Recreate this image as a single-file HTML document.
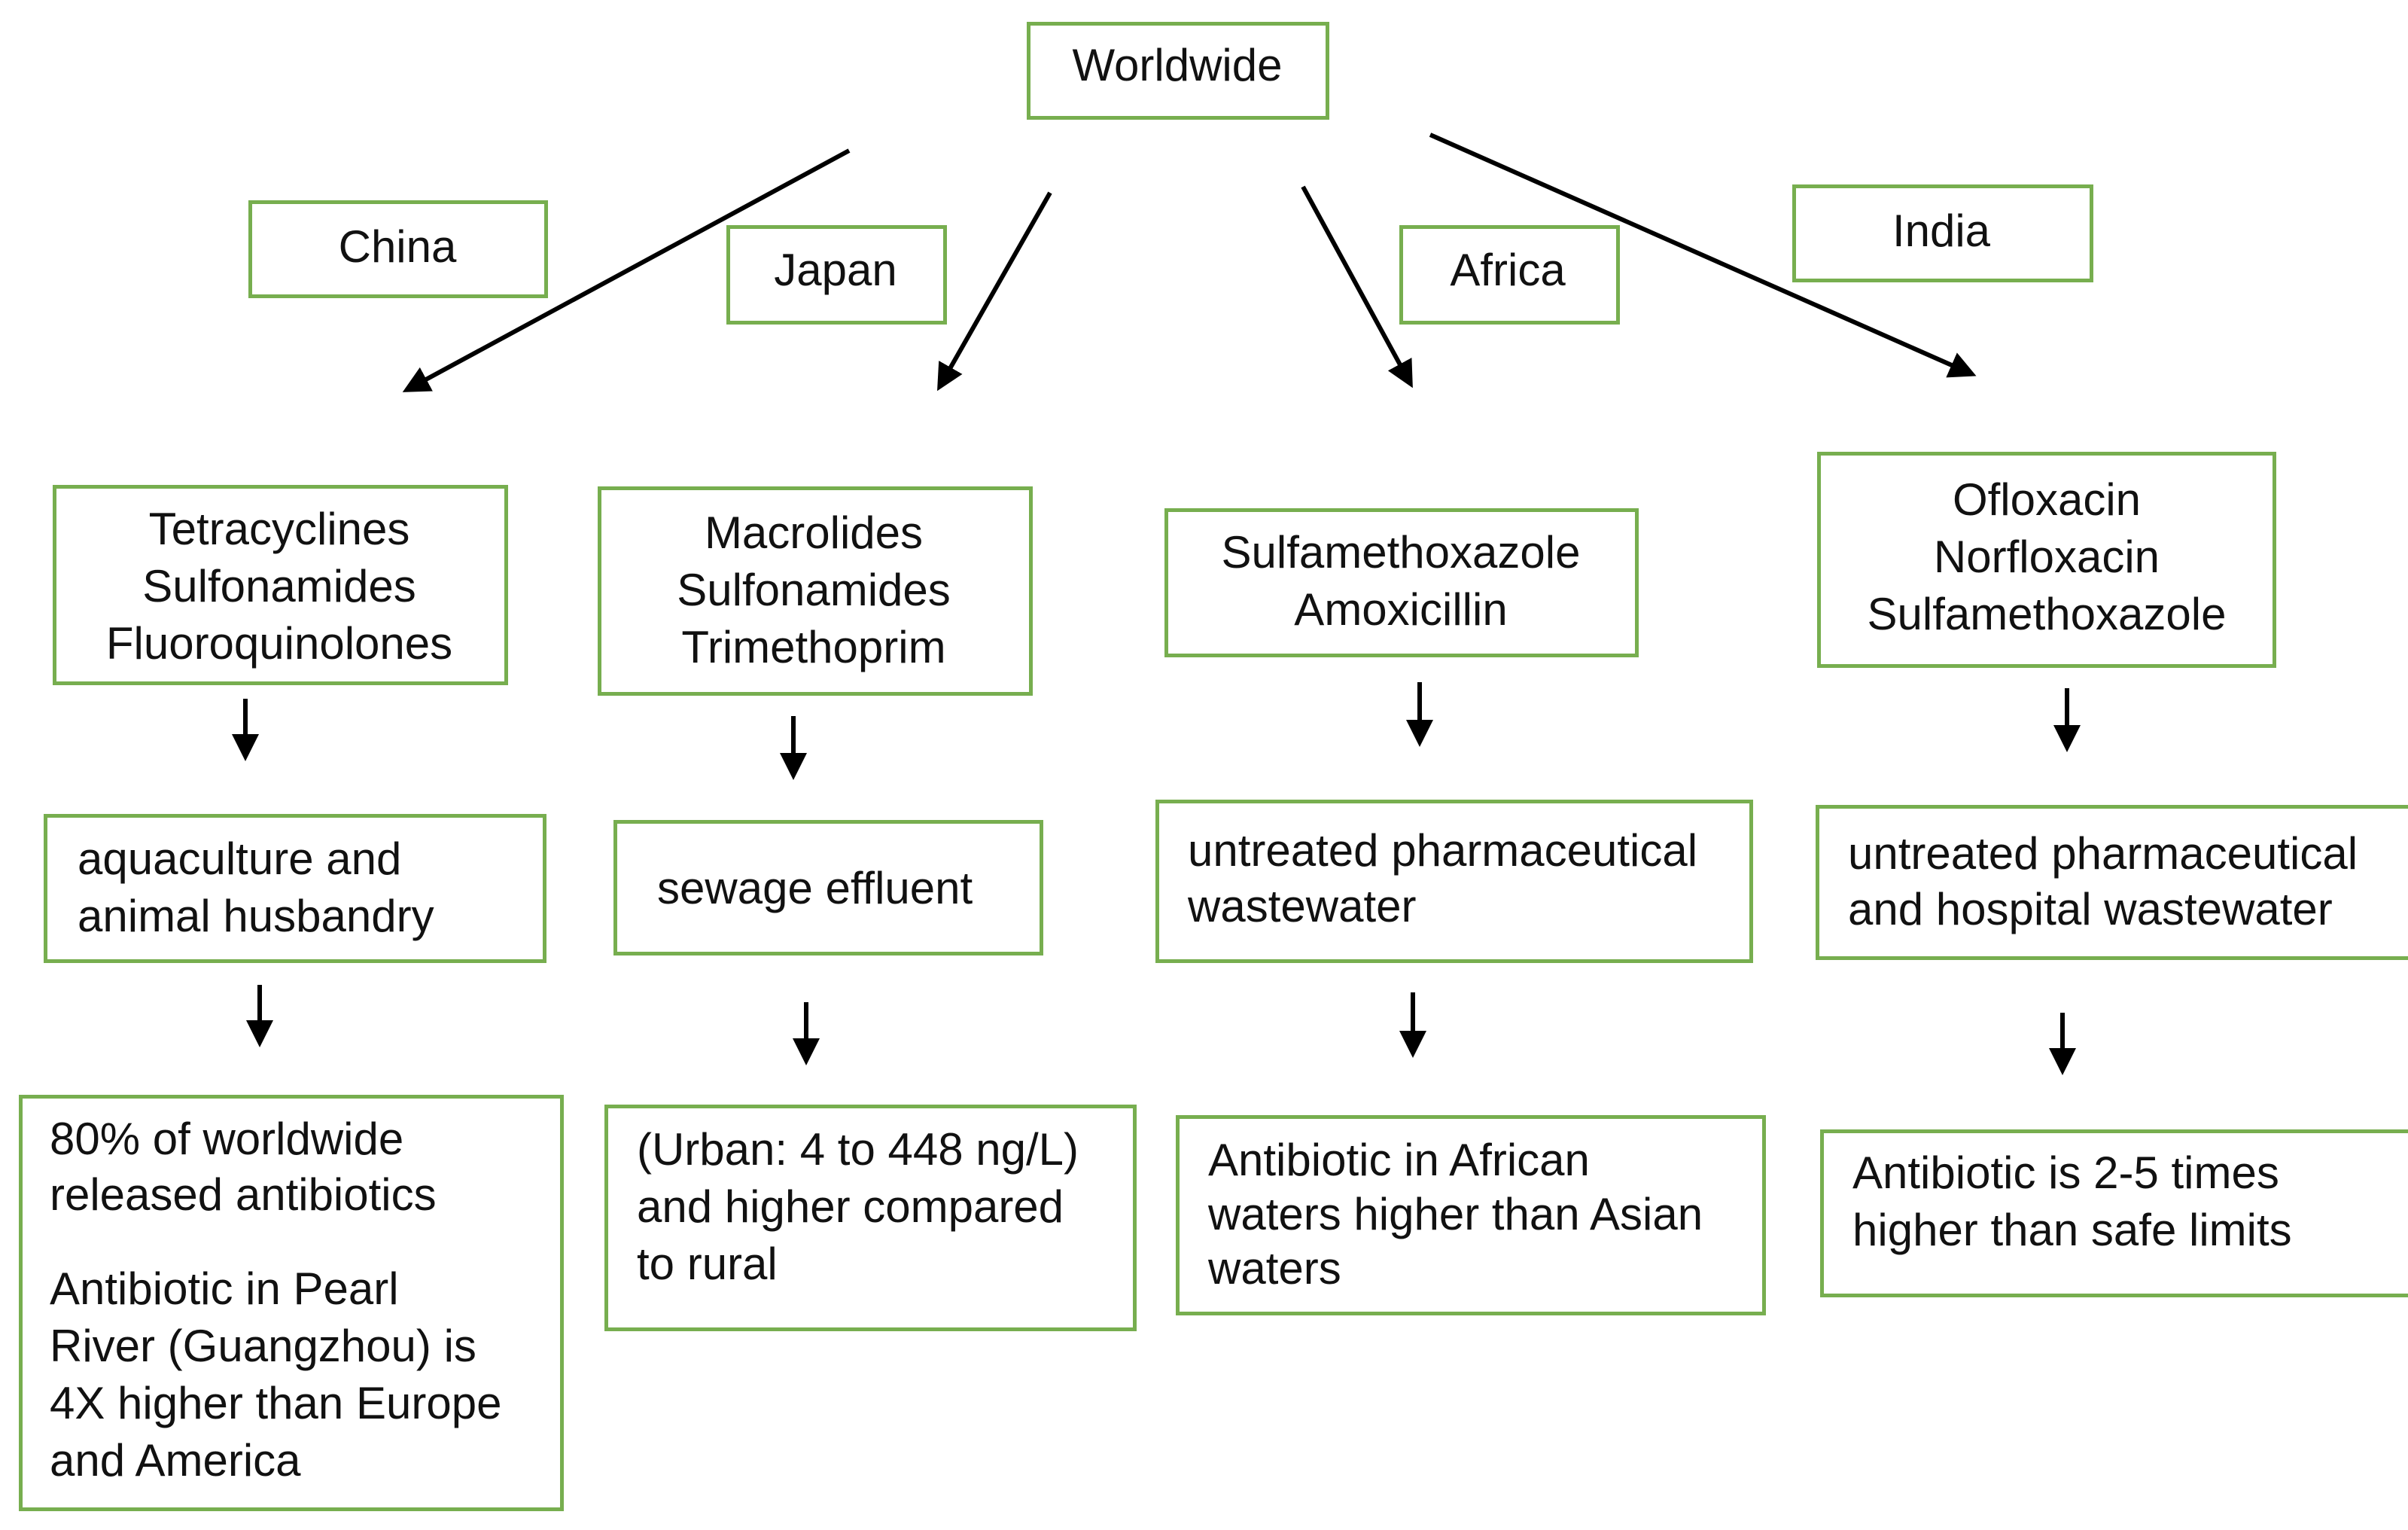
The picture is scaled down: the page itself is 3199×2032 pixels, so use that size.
<!DOCTYPE html>
<html><head><meta charset="utf-8"><style>
body{margin:0;width:3199px;height:2032px;background:#fff;position:relative;overflow:hidden;font-family:"Liberation Sans",Arial,sans-serif;color:#111}
.b{position:absolute;border:5px solid #77ae4f;box-sizing:border-box}
.t{position:absolute;font-size:60px;line-height:76px;white-space:nowrap}
.c{text-align:center;transform:translateX(-50%)}
</style></head><body>
<svg width="3199" height="2032" style="position:absolute;left:0;top:0">
<defs><marker id="a" markerWidth="6" markerHeight="6" refX="5" refY="3" orient="auto" markerUnits="strokeWidth"><path d="M0,0 L6,3 L0,6 z" fill="#000"/></marker></defs>
<g stroke="#000" stroke-width="6" fill="none" marker-end="url(#a)">
<line x1="1128" y1="200" x2="540" y2="518"/>
<line x1="1395" y1="256" x2="1248" y2="514"/>
<line x1="1731" y1="248" x2="1874" y2="510"/>
<line x1="1900" y1="179" x2="2620" y2="497"/>
<line x1="326" y1="928" x2="326" y2="1005"/>
<line x1="1054" y1="951" x2="1054" y2="1030"/>
<line x1="1886" y1="906" x2="1886" y2="986"/>
<line x1="2746" y1="914" x2="2746" y2="993"/>
<line x1="345" y1="1308" x2="345" y2="1385"/>
<line x1="1071" y1="1331" x2="1071" y2="1409"/>
<line x1="1877" y1="1318" x2="1877" y2="1399"/>
<line x1="2740" y1="1345" x2="2740" y2="1422"/>
</g></svg>
<div class="b" style="left:1364px;top:29px;width:402px;height:130px"></div>
<div class="b" style="left:330px;top:266px;width:398px;height:130px"></div>
<div class="b" style="left:965px;top:299px;width:293px;height:132px"></div>
<div class="b" style="left:1859px;top:299px;width:293px;height:132px"></div>
<div class="b" style="left:2381px;top:245px;width:400px;height:130px"></div>
<div class="b" style="left:70px;top:644px;width:605px;height:266px"></div>
<div class="b" style="left:794px;top:646px;width:578px;height:278px"></div>
<div class="b" style="left:1547px;top:675px;width:630px;height:198px"></div>
<div class="b" style="left:2414px;top:600px;width:610px;height:287px"></div>
<div class="b" style="left:58px;top:1081px;width:668px;height:198px"></div>
<div class="b" style="left:815px;top:1089px;width:571px;height:180px"></div>
<div class="b" style="left:1535px;top:1062px;width:794px;height:217px"></div>
<div class="b" style="left:2412px;top:1069px;width:800px;height:206px"></div>
<div class="b" style="left:25px;top:1454px;width:724px;height:553px"></div>
<div class="b" style="left:803px;top:1467px;width:707px;height:301px"></div>
<div class="b" style="left:1562px;top:1481px;width:784px;height:266px"></div>
<div class="b" style="left:2418px;top:1500px;width:800px;height:223px"></div>

<div class="t c" style="left:1564px;top:49px">Worldwide</div>
<div class="t c" style="left:528px;top:290px">China</div>
<div class="t c" style="left:1110px;top:321px">Japan</div>
<div class="t c" style="left:2003px;top:321px">Africa</div>
<div class="t c" style="left:2579px;top:269px">India</div>
<div class="t c" style="left:371px;top:665px">Tetracyclines<br>Sulfonamides<br>Fluoroquinolones</div>
<div class="t c" style="left:1081px;top:670px">Macrolides<br>Sulfonamides<br>Trimethoprim</div>
<div class="t c" style="left:1861px;top:696px">Sulfamethoxazole<br>Amoxicillin</div>
<div class="t c" style="left:2719px;top:626px">Ofloxacin<br>Norfloxacin<br>Sulfamethoxazole</div>
<div class="t" style="left:103px;top:1103px">aquaculture and<br>animal husbandry</div>
<div class="t" style="left:873px;top:1142px">sewage effluent</div>
<div class="t" style="left:1578px;top:1093px;line-height:74px">untreated pharmaceutical<br>wastewater</div>
<div class="t" style="left:2455px;top:1097px;line-height:74px">untreated pharmaceutical<br>and hospital wastewater</div>
<div class="t" style="left:66px;top:1476px;line-height:74px">80% of worldwide<br>released antibiotics</div>
<div class="t" style="left:66px;top:1674px">Antibiotic in Pearl<br>River (Guangzhou) is<br>4X higher than Europe<br>and America</div>
<div class="t" style="left:846px;top:1489px">(Urban: 4 to 448 ng/L)<br>and higher compared<br>to rural</div>
<div class="t" style="left:1605px;top:1505px;line-height:72px">Antibiotic in African<br>waters higher than Asian<br>waters</div>
<div class="t" style="left:2461px;top:1520px">Antibiotic is 2-5 times<br>higher than safe limits</div>
</body></html>
